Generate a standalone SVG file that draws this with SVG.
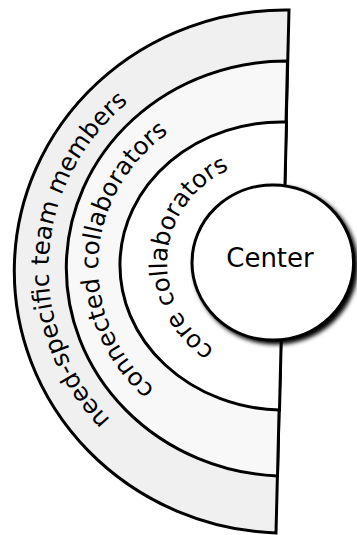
<svg xmlns="http://www.w3.org/2000/svg" xmlns:xlink="http://www.w3.org/1999/xlink" width="357" height="535" viewBox="0 0 357 535">
  <defs>
    <style>
      .band { stroke: #000; stroke-width: 3; stroke-linejoin: miter; }
      .lbl { font-family: "DejaVu Sans", sans-serif; font-size: 24.5px; fill: #000; }
      .ctr { font-family: "DejaVu Sans", sans-serif; font-size: 26px; fill: #000; }
    </style>
    <filter id="shadow" x="-20%" y="-20%" width="150%" height="150%">
      <feGaussianBlur in="SourceAlpha" stdDeviation="2.2"/>
      <feOffset dx="2.5" dy="2.5" result="b"/>
      <feMerge><feMergeNode in="b"/><feMergeNode in="SourceGraphic"/></feMerge>
    </filter>
    <path id="p-outer" d="M 0 222 A 234 222 0 0 1 0 -222"/>
    <path id="p-mid" d="M 0 170 A 184.5 170 0 0 1 0 -170"/>
    <path id="p-inner" d="M 0 105 A 112 105 0 0 1 0 -105"/>
  </defs>

  <g id="need-specific">
    <path class="band" fill="#f0f0f0" d="M 289 10 A 271.5 261.6 1.4 0 0 276 533 Z"/>
  </g>
  <g id="connected">
    <path class="band" fill="#f8f8f8" d="M 287.5 61 A 220.5 207.6 1.4 0 0 277.5 476 Z"/>
  </g>
  <g id="core">
    <path class="band" fill="#ffffff" d="M 286.5 122 A 163 144 1.4 0 0 279.5 410 Z"/>
  </g>

  <g id="labels">
    <g transform="translate(282.5,270) rotate(3.2)">
      <text class="lbl" text-anchor="middle"><textPath xlink:href="#p-outer" href="#p-outer" startOffset="50%">need-specific team members</textPath></text>
    </g>
    <g transform="translate(282.5,267.5) rotate(3.1)">
      <text class="lbl" text-anchor="middle"><textPath xlink:href="#p-mid" href="#p-mid" startOffset="50%">connected collaborators</textPath></text>
    </g>
    <g transform="translate(279,264) rotate(4.7)">
      <text class="lbl" text-anchor="middle"><textPath xlink:href="#p-inner" href="#p-inner" startOffset="50%">core collaborators</textPath></text>
    </g>
  </g>

  <g id="center">
    <ellipse cx="272.8" cy="262.5" rx="80.8" ry="77.5" fill="#fff" stroke="#000" stroke-width="3" filter="url(#shadow)"/>
    <text class="ctr" x="270" y="267" text-anchor="middle">Center</text>
  </g>
</svg>
